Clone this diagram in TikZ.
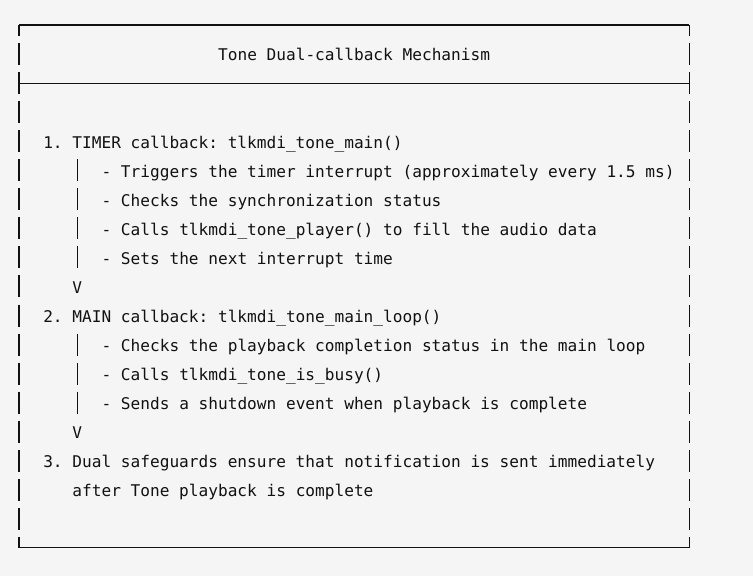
\documentclass[tikz,border=0pt]{standalone}
\usepackage{fontspec}
\newfontfamily\monofnt{DejaVu Sans Mono}
\definecolor{bg}{HTML}{F5F5F5}
\definecolor{ink}{HTML}{111111}
\begin{document}
\frenchspacing
\begin{tikzpicture}[x=1pt,y=-1pt,
  txt/.style={anchor=base west,inner sep=0pt,outer sep=0pt,font=\monofnt\fontsize{16.13}{19}\selectfont\frenchspacing,text=ink},
  rule/.style={draw=ink,line width=1.1pt}]
\fill[bg] (0,0) rectangle (753,576);
\useasboundingbox (0,0) rectangle (753,576);
% corners / borders
\coordinate (tl) at (19,25);
\coordinate (tr) at (689.3,25);
\coordinate (sl) at (19,83.1);
\coordinate (sr) at (689.3,83.1);
\coordinate (bl) at (19,547.9);
\coordinate (br) at (689.3,547.9);
\draw[rule] (tl) -- (tr);
\draw[rule] (sl) -- (sr);
\draw[rule] (bl) -- (br);
\draw[rule] (tl) -- ++(0,11);
\draw[rule] (tr) -- ++(0,11);
\draw[rule] (bl) -- ++(0,-11);
\draw[rule] (br) -- ++(0,-11);
\foreach \k in {1,...,17}{
  \draw[rule] (19,{25+29.05*\k-11}) -- ++(0,22);
  \draw[rule] (689.3,{25+29.05*\k-11}) -- ++(0,22);
}
% inner bars
\foreach \k in {5,6,7,8,11,12,13}{
  \draw[rule] (77.3,{25+29.05*\k-11}) -- ++(0,22);
}
% texts
\node[txt] (title) at (218.13,60.85) {Tone Dual-callback Mechanism};
\node[txt] (s1) at (43.28,148.0) {1. TIMER callback: tlkmdi\_tone\_main()};
\node[txt] (s1a) at (101.57,177.05) {- Triggers the timer interrupt (approximately every 1.5 ms)};
\node[txt] (s1b) at (101.57,206.1) {- Checks the synchronization status};
\node[txt] (s1c) at (101.57,235.15) {- Calls tlkmdi\_tone\_player() to fill the audio data};
\node[txt] (s1d) at (101.57,264.2) {- Sets the next interrupt time};
\node[txt] (v1) at (72.42,293.25) {V};
\node[txt] (s2) at (43.28,322.3) {2. MAIN callback: tlkmdi\_tone\_main\_loop()};
\node[txt] (s2a) at (101.57,351.35) {- Checks the playback completion status in the main loop};
\node[txt] (s2b) at (101.57,380.4) {- Calls tlkmdi\_tone\_is\_busy()};
\node[txt] (s2c) at (101.57,409.45) {- Sends a shutdown event when playback is complete};
\node[txt] (v2) at (72.42,438.5) {V};
\node[txt] (s3) at (43.28,467.55) {3. Dual safeguards ensure that notification is sent immediately};
\node[txt] (s3b) at (72.42,496.6) {after Tone playback is complete};
\end{tikzpicture}
\end{document}
